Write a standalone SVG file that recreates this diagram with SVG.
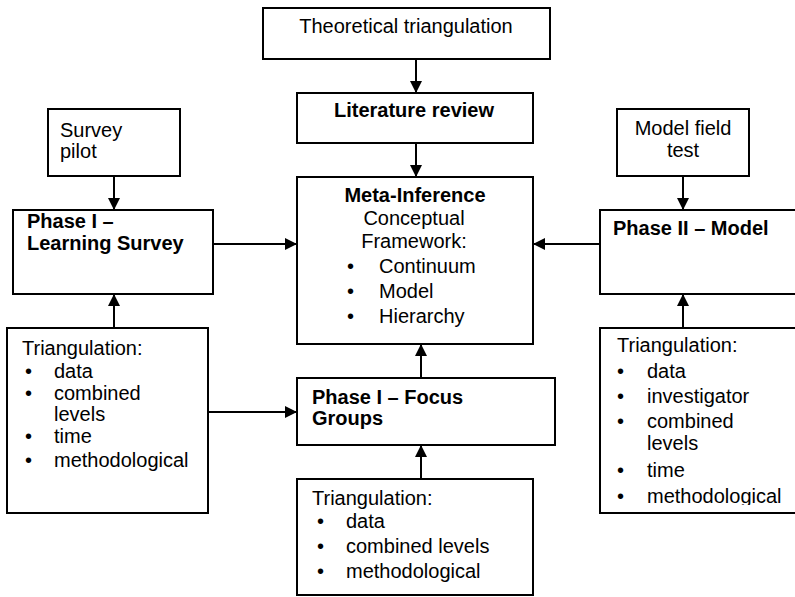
<svg xmlns="http://www.w3.org/2000/svg" width="795" height="597" viewBox="0 0 795 597">
  <style>
    .box { fill: #ffffff; stroke: #000000; stroke-width: 2; }
    .t { font-family: "Liberation Sans", Arial, sans-serif; font-size: 20px; fill: #000000; }
    .b { font-weight: bold; }
    .c { text-anchor: middle; }
    .edge { stroke: #000000; stroke-width: 2; fill: none; marker-end: url(#arrow); }
  </style>
  <defs>
    <marker id="arrow" markerUnits="userSpaceOnUse" markerWidth="13" markerHeight="13" refX="12" refY="6" orient="auto">
      <path d="M0,0 L12,6 L0,12 z" fill="#000000"/>
    </marker>
    <clipPath id="clipRightTri">
      <rect x="600" y="328" width="200" height="177"/>
    </clipPath>
  </defs>
  <rect width="795" height="597" fill="#ffffff"/>

  <g id="connectors">
    <line class="edge" x1="416" y1="59" x2="416" y2="93"/>
    <line class="edge" x1="416" y1="143" x2="416" y2="177"/>
    <line class="edge" x1="114" y1="176" x2="114" y2="210"/>
    <line class="edge" x1="213" y1="244" x2="297" y2="244"/>
    <line class="edge" x1="683" y1="176" x2="683" y2="210"/>
    <line class="edge" x1="600" y1="244" x2="533" y2="244"/>
    <line class="edge" x1="114" y1="328" x2="114" y2="294"/>
    <line class="edge" x1="208" y1="412" x2="297" y2="412"/>
    <line class="edge" x1="421" y1="378" x2="421" y2="344"/>
    <line class="edge" x1="421" y1="479" x2="421" y2="445"/>
    <line class="edge" x1="683" y1="328" x2="683" y2="294"/>
  </g>

  <g id="theoretical">
    <rect class="box" x="263" y="8" width="287" height="51"/>
    <text class="t c" x="406" y="33">Theoretical triangulation</text>
  </g>

  <g id="literature">
    <rect class="box" x="297" y="93" width="236" height="50"/>
    <text class="t b c" x="414" y="117">Literature review</text>
  </g>

  <g id="meta">
    <rect class="box" x="297" y="177" width="236" height="167"/>
    <text class="t b c" x="415" y="202">Meta-Inference</text>
    <text class="t c" x="414" y="225">Conceptual</text>
    <text class="t c" x="414" y="248">Framework:</text>
    <text class="t" x="347" y="273">•</text>
    <text class="t" x="379" y="273">Continuum</text>
    <text class="t" x="347" y="298">•</text>
    <text class="t" x="379" y="298">Model</text>
    <text class="t" x="347" y="323">•</text>
    <text class="t" x="379" y="323">Hierarchy</text>
  </g>

  <g id="survey-pilot">
    <rect class="box" x="48" y="109" width="132" height="67"/>
    <text class="t" x="60" y="137">Survey</text>
    <text class="t" x="60" y="158">pilot</text>
  </g>

  <g id="learning-survey">
    <rect class="box" x="13" y="210" width="200" height="84"/>
    <text class="t b" x="27" y="228">Phase I –</text>
    <text class="t b" x="27" y="250">Learning Survey</text>
  </g>

  <g id="model-field-test">
    <rect class="box" x="617" y="109" width="132" height="67"/>
    <text class="t c" x="683" y="135">Model field</text>
    <text class="t c" x="683" y="157">test</text>
  </g>

  <g id="phase-two-model">
    <rect class="box" x="600" y="210" width="205" height="84"/>
    <text class="t b" x="613" y="235">Phase II – Model</text>
  </g>

  <g id="survey-triangulation">
    <rect class="box" x="7" y="328" width="201" height="185"/>
    <text class="t" x="22" y="355">Triangulation:</text>
    <text class="t" x="25" y="378">•</text>
    <text class="t" x="54" y="378">data</text>
    <text class="t" x="25" y="400">•</text>
    <text class="t" x="54" y="400">combined</text>
    <text class="t" x="54" y="421">levels</text>
    <text class="t" x="25" y="443">•</text>
    <text class="t" x="54" y="443">time</text>
    <text class="t" x="25" y="467">•</text>
    <text class="t" x="54" y="467">methodological</text>
  </g>

  <g id="focus-groups">
    <rect class="box" x="297" y="378" width="258" height="67"/>
    <text class="t b" x="312" y="404">Phase I – Focus</text>
    <text class="t b" x="312" y="425">Groups</text>
  </g>

  <g id="focus-triangulation">
    <rect class="box" x="297" y="479" width="236" height="116"/>
    <text class="t" x="312" y="505">Triangulation:</text>
    <text class="t" x="317" y="528">•</text>
    <text class="t" x="346" y="528">data</text>
    <text class="t" x="317" y="553">•</text>
    <text class="t" x="346" y="553">combined levels</text>
    <text class="t" x="317" y="578">•</text>
    <text class="t" x="346" y="578">methodological</text>
  </g>

  <g id="model-triangulation">
    <rect class="box" x="600" y="328" width="205" height="185"/>
    <g clip-path="url(#clipRightTri)">
      <text class="t" x="617" y="352">Triangulation:</text>
      <text class="t" x="617" y="378">•</text>
      <text class="t" x="647" y="378">data</text>
      <text class="t" x="617" y="403">•</text>
      <text class="t" x="647" y="403">investigator</text>
      <text class="t" x="617" y="428">•</text>
      <text class="t" x="647" y="428">combined</text>
      <text class="t" x="647" y="450">levels</text>
      <text class="t" x="617" y="477">•</text>
      <text class="t" x="647" y="477">time</text>
      <text class="t" x="617" y="503">•</text>
      <text class="t" x="647" y="503">methodological</text>
    </g>
  </g>
</svg>
